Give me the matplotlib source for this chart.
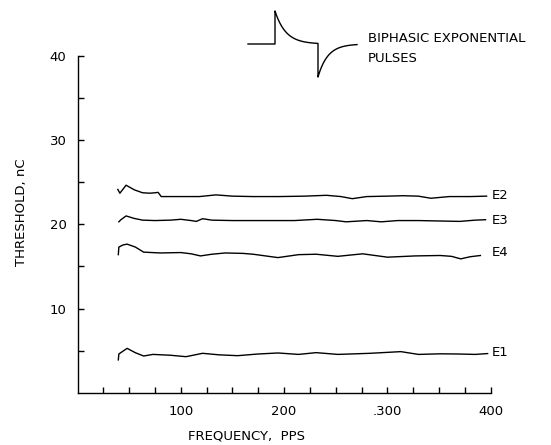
import numpy as np
import matplotlib
matplotlib.use("Agg")
import matplotlib.pyplot as plt

plt.rcParams['font.family'] = ['DejaVu Sans']

# threshold curves (frequency pps, threshold nC)
e2_f = [39, 41, 47, 55, 63, 70, 75, 78, 81, 95, 118, 134, 150, 170, 195, 220, 241, 255, 266, 280, 300, 315, 330, 342, 360, 380, 396]
e2_v = [24.15, 23.7, 24.65, 24.1, 23.75, 23.7, 23.75, 23.8, 23.3, 23.3, 23.3, 23.5, 23.35, 23.3, 23.3, 23.35, 23.45, 23.3, 23.05, 23.3, 23.35, 23.4, 23.35, 23.1, 23.3, 23.3, 23.35]

e3_f = [40, 42, 47, 55, 63, 75, 90, 100, 110, 115, 121, 130, 150, 180, 210, 232, 250, 260, 280, 294, 310, 330, 350, 370, 385, 395]
e3_v = [20.3, 20.55, 21.0, 20.7, 20.5, 20.45, 20.5, 20.6, 20.45, 20.35, 20.67, 20.5, 20.45, 20.45, 20.45, 20.6, 20.45, 20.3, 20.45, 20.3, 20.45, 20.45, 20.4, 20.35, 20.5, 20.55]

e4_f = [39.5, 40, 44, 48, 56, 64, 80, 100, 110, 119, 130, 143, 160, 170, 194, 214, 231, 252, 276, 300, 327, 351, 362, 371, 380, 390]
e4_v = [16.4, 17.3, 17.55, 17.65, 17.3, 16.7, 16.6, 16.65, 16.5, 16.25, 16.45, 16.6, 16.55, 16.45, 16.05, 16.4, 16.45, 16.2, 16.5, 16.1, 16.25, 16.3, 16.2, 15.9, 16.15, 16.3]

e1_f = [39.5, 40, 48, 56, 64, 73, 90, 105, 121, 137, 155, 175, 194, 214, 231, 252, 283, 313, 330, 351, 368, 385, 397]
e1_v = [3.9, 4.6, 5.27, 4.75, 4.36, 4.55, 4.45, 4.28, 4.68, 4.5, 4.4, 4.6, 4.72, 4.55, 4.76, 4.55, 4.68, 4.88, 4.55, 4.62, 4.6, 4.55, 4.65]

curves = [(e2_f, e2_v, "E2", 23.45), (e3_f, e3_v, "E3", 20.5), (e4_f, e4_v, "E4", 16.7), (e1_f, e1_v, "E1", 4.8)]

x_major = [100, 200, 300, 400]
x_labels = ["100", "200", ".300", "400"]
x_minor = [25, 50, 75, 125, 150, 175, 225, 250, 275, 325, 350, 375]
y_major = [10, 20, 30, 40]
y_minor = [5, 15, 25, 35]

fig = plt.figure(figsize=(5.51, 4.45), dpi=100)
ax = fig.add_axes([0.1407, 0.1175, 0.7499, 0.7567])

for f, v, name, ly in curves:
    ax.plot(f, v, color="black", lw=1.0)
    ax.text(401, ly, name, fontsize=9.5, ha="left", va="center")

ax.set_xlim(0, 400)
ax.set_ylim(0, 40)
for s in ["top", "right"]:
    ax.spines[s].set_visible(False)
for s in ["left", "bottom"]:
    ax.spines[s].set_linewidth(1.0)

ax.set_xticks(x_major, x_labels)
ax.set_xticks(x_minor, minor=True)
ax.set_yticks(y_major)
ax.set_yticks(y_minor, minor=True)
ax.tick_params(which="both", direction="in", length=4.5, width=1.0, labelsize=9.5)
ax.tick_params(axis="x", which="major", pad=9)
ax.tick_params(axis="y", which="major", pad=8)

# overlay in pixel coordinates for axis titles and the pulse sketch
ov = fig.add_axes([0, 0, 1, 1], facecolor="none")
ov.set_xlim(0, 551)
ov.set_ylim(445, 0)
ov.axis("off")

ov.text(247, 436, "FREQUENCY,  PPS", fontsize=9.5, ha="center", va="center")
ov.text(22, 212, "THRESHOLD, nC", fontsize=9.5, ha="center", va="center", rotation=90)

t1 = np.linspace(0, 1, 40)
xa = np.concatenate([[248, 275], 275 + 43 * t1, [318]])
ya = np.concatenate([[44, 44], 44 - 33 * np.exp(-4 * t1), [44]])
xb = np.concatenate([[318], 318 + 39 * t1])
yb = np.concatenate([[44], 44 + 33 * np.exp(-4 * t1)])
ov.plot(np.concatenate([xa, xb]), np.concatenate([ya, yb]), color="black", lw=1.0)
ov.text(368, 38, "BIPHASIC EXPONENTIAL", fontsize=9.5, ha="left", va="center")
ov.text(368, 58, "PULSES", fontsize=9.5, ha="left", va="center")

fig.savefig("out.png", dpi=100)
